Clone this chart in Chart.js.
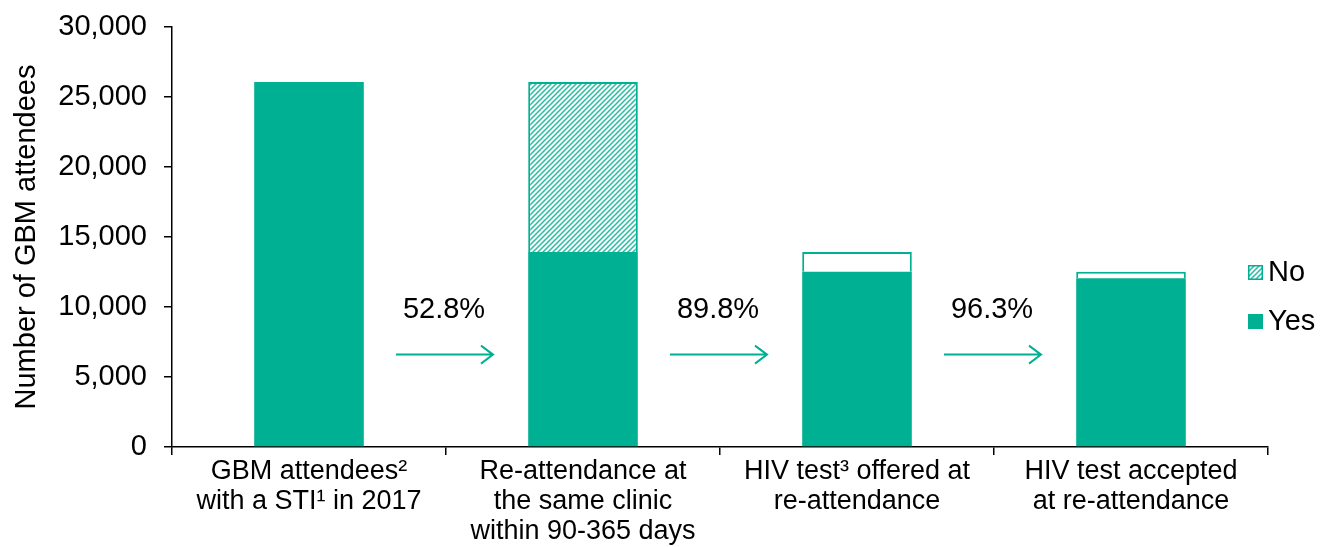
<!DOCTYPE html>
<html>
<head>
<meta charset="utf-8">
<script src="https://cdn.jsdelivr.net/npm/chart.js@4/dist/chart.umd.min.js"></script>
<style>
  body { margin: 0; background: #fff; }
  #wrap { width: 1322px; height: 547px; }
</style>
</head>
<body>
<div id="wrap"><canvas id="cascadeChart"></canvas></div>
<script>
// Chart data
const categories = [
    ['GBM attendees\u00B2', 'with a STI\u00B9 in 2017'],
    ['Re-attendance at', 'the same clinic', 'within 90-365 days'],
    ['HIV test\u00B3 offered at', 're-attendance'],
    ['HIV test accepted', 'at re-attendance']
];
const yesValues = [26070, 13930, 12510, 12050];
const noValues = [null, 12140, 1420, 460];
const stepLabels = ['52.8%', '89.8%', '96.3%'];
const yTicks = [0, 5000, 10000, 15000, 20000, 25000, 30000];

const teal = 'rgb(0, 176, 146)';
const font = 'Arial, "Liberation Sans", sans-serif';

// diagonal hatch for the "No" part of the re-attendance bar
function makeHatch() {
    const c = document.createElement('canvas');
    c.width = 5; c.height = 5;
    const g = c.getContext('2d');
    g.fillStyle = '#fff';
    g.fillRect(0, 0, 5, 5);
    g.strokeStyle = 'rgba(0, 176, 146, 0.85)';
    g.lineWidth = 1.5;
    g.beginPath();
    g.moveTo(0, 5); g.lineTo(5, 0);
    g.moveTo(-1, 1); g.lineTo(1, -1);
    g.moveTo(4, 6); g.lineTo(6, 4);
    g.stroke();
    return g.createPattern(c, 'repeat');
}
const hatch = makeHatch();
const noFill = noValues.map((v, i) => i === 1 ? hatch : '#fff');

// arrows + percentages between the bars, and the legend inside the plot
const cascadeExtras = {
    id: 'cascadeExtras',
    afterDatasetsDraw(chart) {
        const ctx = chart.ctx;
        const x = chart.scales.x;
        const y = chart.scales.y;
        ctx.save();
        stepLabels.forEach((txt, i) => {
            const bx = (x.getPixelForValue(i) + x.getPixelForValue(i + 1)) / 2 - 2;
            const ay = y.getPixelForValue(6600);
            ctx.strokeStyle = teal;
            ctx.lineWidth = 2;
            ctx.beginPath();
            ctx.moveTo(bx - 48, ay);
            ctx.lineTo(bx + 49, ay);
            ctx.moveTo(bx + 37, ay - 9);
            ctx.lineTo(bx + 49, ay);
            ctx.lineTo(bx + 37, ay + 9);
            ctx.stroke();
            ctx.fillStyle = '#000';
            ctx.font = '29px ' + font;
            ctx.textAlign = 'center';
            ctx.textBaseline = 'middle';
            ctx.fillText(txt, bx, y.getPixelForValue(9800));
        });

        // legend: No above Yes
        const lx = chart.chartArea.right - 20;
        const items = [
            { label: 'No', fill: hatch, border: teal, y: 272 },
            { label: 'Yes', fill: teal, border: teal, y: 321 }
        ];
        items.forEach(it => {
            ctx.fillStyle = it.fill;
            ctx.fillRect(lx, it.y - 7, 15, 15);
            ctx.strokeStyle = it.border;
            ctx.lineWidth = 1.5;
            ctx.strokeRect(lx + 0.75, it.y - 6.25, 13.5, 13.5);
            ctx.fillStyle = '#000';
            ctx.font = '29px ' + font;
            ctx.textAlign = 'left';
            ctx.textBaseline = 'middle';
            ctx.fillText(it.label, lx + 20, it.y + 1);
        });
        ctx.restore();
    }
};

new Chart(document.getElementById('cascadeChart').getContext('2d'), {
    type: 'bar',
    data: {
        labels: categories,
        datasets: [
            {
                label: 'Yes',
                data: yesValues,
                backgroundColor: teal,
                borderWidth: 0
            },
            {
                label: 'No',
                data: noValues,
                backgroundColor: noFill,
                borderColor: teal,
                borderWidth: 2,
                borderSkipped: 'bottom'
            }
        ]
    },
    options: {
        responsive: true,
        maintainAspectRatio: false,
        animation: false,
        layout: { padding: { left: 0, top: 27, right: 54, bottom: 0 } },
        datasets: { bar: { categoryPercentage: 1.0, barPercentage: 0.40 } },
        plugins: {
            legend: { display: false },
            tooltip: { enabled: false }
        },
        scales: {
            x: {
                stacked: true,
                afterFit(s) { s.height = 100; s.paddingLeft = 0; s.paddingRight = 0; },
                border: { color: '#000', width: 1.5 },
                grid: {
                    offset: true,
                    drawOnChartArea: false,
                    color: '#000',
                    lineWidth: 1.5,
                    tickLength: 8
                },
                ticks: {
                    color: '#000',
                    padding: 2,
                    maxRotation: 0,
                    autoSkip: false,
                    font: { family: font, size: 27, lineHeight: 1.11 }
                }
            },
            y: {
                stacked: true,
                min: 0,
                max: 30000,
                afterFit(s) { s.width = 172; s.paddingTop = 0; s.paddingBottom = 0; },
                afterBuildTicks(s) { s.ticks = yTicks.map(v => ({ value: v })); },
                border: { color: '#000', width: 1.5 },
                grid: {
                    drawOnChartArea: false,
                    color: '#000',
                    lineWidth: 1.5,
                    tickLength: 8
                },
                title: {
                    display: true,
                    text: 'Number of GBM attendees',
                    color: '#000',
                    padding: { top: 10, bottom: 0 },
                    font: { family: font, size: 29 }
                },
                ticks: {
                    color: '#000',
                    padding: 17,
                    font: { family: font, size: 29 },
                    callback: v => v.toLocaleString('en-US')
                }
            }
        }
    },
    plugins: [cascadeExtras]
});
</script>
</body>
</html>
